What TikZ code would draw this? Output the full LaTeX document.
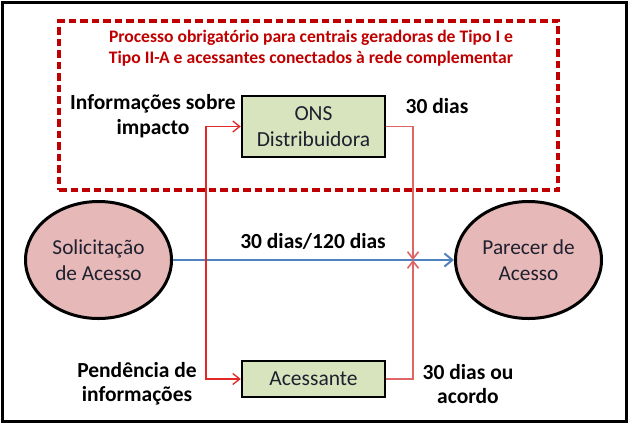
\documentclass[tikz,border=0pt]{standalone}
\usepackage{fontspec}
\setmainfont{Carlito}
\usetikzlibrary{arrows.meta,shapes.geometric}
\definecolor{titlered}{HTML}{C00000}
\definecolor{boxfill}{HTML}{D7E4BD}
\definecolor{ellfill}{HTML}{E6B9B8}
\definecolor{flowblue}{HTML}{4F81BD}
\definecolor{linkred}{HTML}{E02828}
\definecolor{linkpink}{HTML}{E06666}
\definecolor{inktext}{HTML}{1F1F2F}
\tikzset{
  redbarb/.tip={Straight Barb[length=7pt,width=11pt]},
  bluebarb/.tip={Straight Barb[length=8pt,width=13pt,line width=2pt]},
  procbox/.style={draw=black, line width=2.4pt, fill=boxfill, inner sep=0pt,
    text=inktext, font=\fontsize{21.5}{26.5}\selectfont, align=center},
  stateell/.style={ellipse, draw=black, line width=3pt, fill=ellfill, inner sep=0pt,
    minimum width=146pt, minimum height=117pt, text=inktext,
    font=\fontsize{21.3}{26.5}\selectfont, align=center},
  lbl/.style={font=\bfseries\fontsize{21.5}{24.5}\selectfont, align=center, inner sep=0pt},
  titletext/.style={font=\bfseries\fontsize{17.6}{21.5}\selectfont, text=titlered, align=center, inner sep=0pt},
  frame/.style={draw=titlered, line width=3.4pt, dash pattern=on 7.5pt off 4pt,
    minimum width=499pt, minimum height=169pt, inner sep=0pt},
  redlink/.style={draw=linkred, line width=1.3pt},
  pinklink/.style={draw=linkpink, line width=1.6pt},
  flow/.style={draw=flowblue, line width=2pt, arrows={-bluebarb}}
}
\begin{document}
\begin{tikzpicture}[x=1pt,y=-1pt]
\useasboundingbox (0,0) rectangle (631,426);
\fill[white] (0,0) rectangle (631,426);
\draw[black, line width=2.2pt] (2.5,2.5) rectangle (626.5,421.5);

\node[frame] (frm) at (308.5,105.5) {};
\node[titletext] (title) at (311,48) {Processo obrigatório para centrais geradoras de Tipo I e\\Tipo II-A e acessantes conectados à rede complementar};

\node[procbox, minimum width=143pt, minimum height=61pt] (ons) at (313.5,126.5) {ONS\\Distribuidora};
\node[procbox, minimum width=143pt, minimum height=36pt] (ac) at (313.5,379) {Acessante};

\node[stateell] (sol) at (98.5,260) {Solicitação\\de Acesso};
\node[stateell] (par) at (528.5,260) {Parecer de\\Acesso};

\node[lbl] (linfo) at (153,116) {Informações sobre\\impacto};
\node[lbl] (l30) at (437,106) {30 dias};
\node[lbl] (lmid) at (313,241) {30 dias/120 dias};
\node[lbl] (lpend) at (137,384) {Pendência de\\informações};
\node[lbl] (lacordo) at (468,384) {30 dias ou\\acordo};

\coordinate (meet) at (413,260);
\coordinate (lx) at (206,0);

\draw[flow] (sol.east) -- (par.west);
\draw[redlink, arrows={redbarb-redbarb}] (ons.west) -| (lx |- ac.west) -- (ac.west);
\draw[pinklink, arrows={-redbarb}] (ons.east) -| (meet);
\draw[pinklink, arrows={-redbarb}] (ac.east) -| (meet);
\end{tikzpicture}
\end{document}
